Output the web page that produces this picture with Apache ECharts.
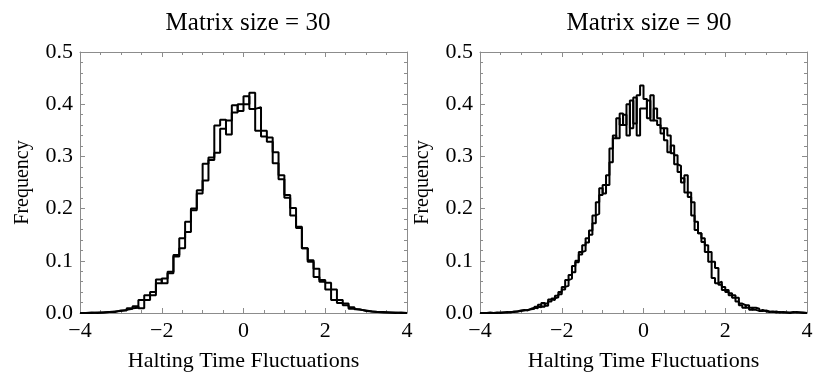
<!DOCTYPE html>
<html>
<head>
<meta charset="utf-8">
<script src="https://cdn.jsdelivr.net/npm/echarts@6/dist/echarts.min.js"></script>
<style>
    html, body { margin: 0; padding: 0; background: #fff; }
    #chart { width: 830px; height: 391px; }
</style>
</head>
<body>
<div id="chart"></div>
<script>
// histogram bins start at -4
var binStart = -4;
var binWidth30 = 1 / 7;
var binWidth90 = 1 / 12;

// matrix size = 30, two runs (56 bins)
var freq30a = [0.000,0.000,0.001,0.001,0.002,0.003,0.004,
    0.006,0.008,0.013,0.009,0.034,0.040,0.057,
    0.066,0.079,0.111,0.143,0.155,0.200,0.235,
    0.254,0.298,0.359,0.370,0.342,0.398,0.387,
    0.415,0.391,0.394,0.349,0.336,0.308,0.264,
    0.226,0.201,0.165,0.124,0.101,0.069,0.063,
    0.058,0.025,0.025,0.018,0.011,0.007,0.004,
    0.003,0.002,0.002,0.001,0.001,0.000,0.000];
var freq30b = [0.000,0.001,0.000,0.001,0.002,0.002,0.005,
    0.005,0.009,0.010,0.025,0.025,0.034,0.064,
    0.057,0.076,0.108,0.124,0.175,0.197,0.229,
    0.286,0.293,0.307,0.353,0.369,0.384,0.400,
    0.400,0.422,0.349,0.338,0.328,0.287,0.256,
    0.221,0.187,0.163,0.124,0.098,0.085,0.060,
    0.045,0.045,0.019,0.015,0.008,0.006,0.005,
    0.003,0.002,0.001,0.001,0.000,0.001,0.000];

// matrix size = 90, two runs (96 bins)
var freq90a = [0,0,0,0,0.001,0,0.001,0.001,0.002,0.002,0.003,0.004,
    0.005,0.006,0.007,0.008,0.012,0.011,0.019,0.014,0.022,0.028,0.030,0.036,
    0.045,0.063,0.066,0.090,0.097,0.112,0.130,0.143,0.158,0.172,0.212,0.239,
    0.229,0.264,0.315,0.340,0.335,0.382,0.360,0.400,0.354,0.413,0.340,0.392,
    0.392,0.407,0.369,0.392,0.373,0.344,0.354,0.340,0.306,0.302,0.270,0.250,
    0.264,0.231,0.212,0.159,0.153,0.136,0.130,0.117,0.098,0.086,0.054,0.050,
    0.044,0.038,0.034,0.029,0.015,0.010,0.015,0.006,0.010,0.008,0.004,0.005,
    0.003,0.002,0.003,0.001,0.002,0.001,0.001,0.001,0.002,0.001,0,0];
var freq90b = [0,0,0.001,0,0,0.001,0.001,0.002,0.001,0.003,0.003,0.005,
    0.006,0.005,0.008,0.010,0.009,0.016,0.012,0.018,0.026,0.025,0.033,0.040,
    0.050,0.052,0.073,0.078,0.100,0.117,0.119,0.135,0.150,0.187,0.190,0.226,
    0.245,0.245,0.289,0.335,0.373,0.360,0.380,0.340,0.407,0.363,0.417,0.436,
    0.410,0.373,0.417,0.369,0.360,0.354,0.331,0.308,0.321,0.285,0.282,0.258,
    0.231,0.222,0.187,0.175,0.153,0.143,0.117,0.098,0.067,0.057,0.060,0.044,
    0.040,0.034,0.029,0.022,0.018,0.015,0.010,0.010,0.006,0.004,0.006,0.003,
    0.002,0.003,0.001,0.002,0.001,0.001,0,0.002,0.001,0.001,0.001,0];

var titles = ['Matrix size = 30', 'Matrix size = 90'];
var xName = 'Halting Time Fluctuations';
var yName = 'Frequency';

var font = 'Liberation Serif';
var frameColor = '#8c8c8c';

// left edges -> step line, last point closes at right edge
function steps(freq, w) {
    var pts = [];
    for (var i = 0; i < freq.length; i++) {
        pts.push([binStart + i * w, freq[i]]);
    }
    pts.push([binStart + freq.length * w, 0]);
    return pts;
}

function xAx(grid, bottom) {
    return {
        type: 'value', gridIndex: grid, min: -4, max: 4, interval: 2,
        position: bottom ? 'bottom' : 'top',
        axisLine: {show: true, onZero: false, lineStyle: {color: frameColor, width: 1}},
        axisTick: {show: true, inside: true, length: 5, lineStyle: {color: frameColor}},
        minorTick: {show: true, splitNumber: 4, length: 3, lineStyle: {color: frameColor}},
        axisLabel: {
            show: bottom, color: '#000', fontFamily: font, fontSize: 22, margin: 7,
            formatter: function (v) { return String(v).replace('-', '\u2212'); }
        },
        splitLine: {show: false},
        name: bottom ? xName : '', nameLocation: 'middle', nameGap: 37,
        nameTextStyle: {color: '#000', fontFamily: font, fontSize: 22}
    };
}

function yAx(grid, left) {
    return {
        type: 'value', gridIndex: grid, min: 0, max: 0.5, interval: 0.1,
        position: left ? 'left' : 'right',
        axisLine: {show: true, onZero: false, lineStyle: {color: frameColor, width: 1}},
        axisTick: {show: true, inside: true, length: 5, lineStyle: {color: frameColor}},
        minorTick: {show: true, splitNumber: 5, length: 3, lineStyle: {color: frameColor}},
        axisLabel: {
            show: left, color: '#000', fontFamily: font, fontSize: 22, margin: 7,
            formatter: function (v) { return v.toFixed(1); }
        },
        splitLine: {show: false},
        name: left ? yName : '', nameLocation: 'middle', nameGap: 47, nameRotate: 90,
        nameTextStyle: {color: '#000', fontFamily: font, fontSize: 20}
    };
}

function histSeries(freq, w, idx) {
    return {
        type: 'line', xAxisIndex: idx, yAxisIndex: idx,
        step: 'end', symbol: 'none', silent: true,
        lineStyle: {color: '#000', width: 2},
        data: steps(freq, w)
    };
}

var myChart = echarts.init(document.getElementById('chart'));
var option = {
    animation: false,
    backgroundColor: '#fff',
    title: [
        {text: titles[0], left: 243, top: 6, textAlign: 'center',
            textStyle: {fontFamily: font, fontSize: 25, fontWeight: 'normal', color: '#000'}},
        {text: titles[1], left: 644, top: 6, textAlign: 'center',
            textStyle: {fontFamily: font, fontSize: 25, fontWeight: 'normal', color: '#000'}}
    ],
    grid: [
        {left: 80, top: 52, width: 327, height: 261},
        {left: 480, top: 52, width: 327, height: 261}
    ],
    xAxis: [xAx(0, true), xAx(1, true), xAx(0, false), xAx(1, false)],
    yAxis: [yAx(0, true), yAx(1, true), yAx(0, false), yAx(1, false)],
    series: [
        histSeries(freq30a, binWidth30, 0),
        histSeries(freq30b, binWidth30, 0),
        histSeries(freq90a, binWidth90, 1),
        histSeries(freq90b, binWidth90, 1)
    ]
};
myChart.setOption(option);
</script>
</body>
</html>
